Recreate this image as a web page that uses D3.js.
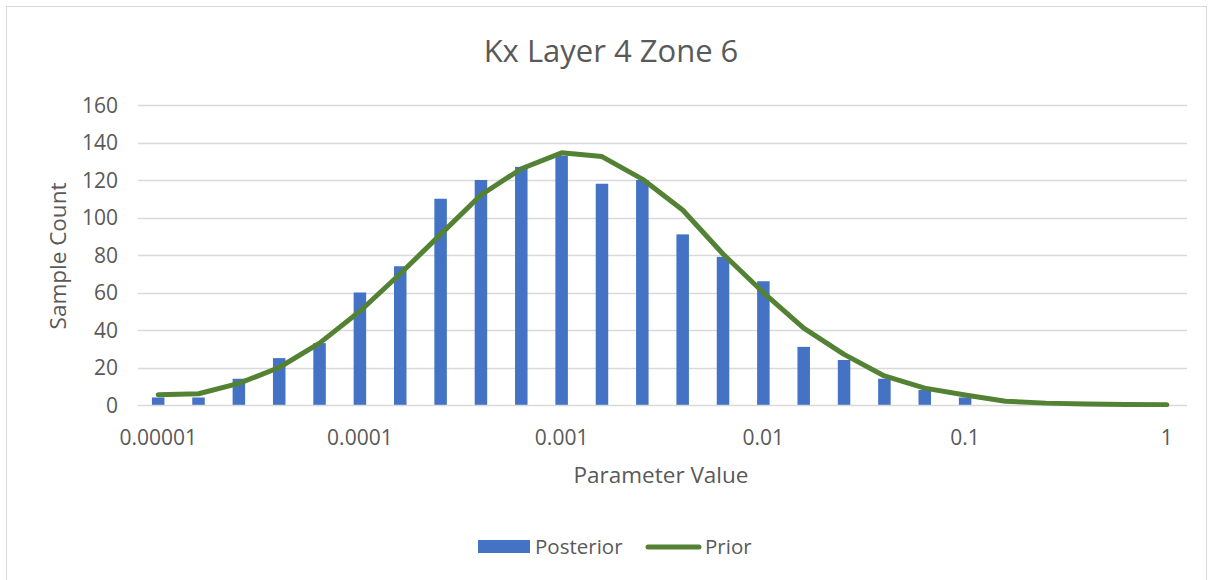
<!DOCTYPE html>
<html>
<head>
<meta charset="utf-8">
<script src="https://cdn.jsdelivr.net/npm/d3@7"></script>
<style>
  html, body { margin: 0; padding: 0; background: #fff; }
  svg { display: block; font-family: "Open Sans", "Segoe UI", sans-serif; }
</style>
</head>
<body>
<svg id="chart" width="1213" height="580"></svg>
<script>
// Categories: 5 bins per decade from 1e-5 to 1
const categories = ["0.00001","1.58E-05","2.51E-05","3.98E-05","6.31E-05",
  "0.0001","1.58E-04","2.51E-04","3.98E-04","6.31E-04",
  "0.001","1.58E-03","2.51E-03","3.98E-03","6.31E-03",
  "0.01","1.58E-02","2.51E-02","3.98E-02","6.31E-02",
  "0.1","1.58E-01","2.51E-01","3.98E-01","6.31E-01","1"];
const xTickLabels = ["0.00001","0.0001","0.001","0.01","0.1","1"];
const posterior = [4, 4, 14, 25, 33, 60, 74, 110, 120, 127, 133, 118, 120, 91, 79, 66, 31, 24, 14, 8, 4, 0, 0, 0, 0, 0];
const prior = [5.5, 6, 11.5, 20, 33, 50, 70, 91, 112, 126, 134.5, 132.5, 120.5, 104, 80.5, 60, 41, 27, 15.5, 9, 5.3, 2, 1, 0.5, 0.3, 0.2];
const yTicks = [0, 20, 40, 60, 80, 100, 120, 140, 160];

const svg = d3.select("#chart");
const m = { left: 138, right: 1187, top: 105, bottom: 405 };

// chart border
svg.append("rect").attr("x", 6.5).attr("y", 6.5).attr("width", 1200).attr("height", 580)
  .attr("fill", "#fff").attr("stroke", "#d9d9d9").attr("stroke-width", 1);

const x = d3.scaleBand().domain(categories).range([m.left, m.right]).paddingInner(0).paddingOuter(0);
const y = d3.scaleLinear().domain([0, 160]).range([m.bottom, m.top]);

// gridlines
svg.append("g").selectAll("line").data(yTicks.filter(d => d > 0)).join("line")
  .attr("x1", m.left).attr("x2", m.right)
  .attr("y1", d => Math.round(y(d)) + 0.5).attr("y2", d => Math.round(y(d)) + 0.5)
  .attr("stroke", "#d9d9d9").attr("stroke-width", 1.5);

// y tick labels
svg.append("g").selectAll("text").data(yTicks).join("text")
  .attr("x", 118).attr("y", d => y(d)).attr("dy", "0.36em")
  .attr("text-anchor", "end").attr("fill", "#595959").attr("font-size", 21)
  .text(d => d);

// bars
const barW = 12.5;
svg.append("g").selectAll("rect").data(posterior).join("rect")
  .attr("x", (d, i) => x(categories[i]) + x.bandwidth() / 2 - barW / 2)
  .attr("width", barW)
  .attr("y", d => y(d))
  .attr("height", d => y(0) - y(d))
  .attr("fill", "#4472c4");

// x axis line
svg.append("line").attr("x1", m.left).attr("x2", m.right)
  .attr("y1", m.bottom + 0.5).attr("y2", m.bottom + 0.5)
  .attr("stroke", "#d9d9d9").attr("stroke-width", 1.5);

// prior line
const line = d3.line()
  .x((d, i) => x(categories[i]) + x.bandwidth() / 2)
  .y(d => y(d));
svg.append("path").datum(prior).attr("d", line)
  .attr("fill", "none").attr("stroke", "#548235").attr("stroke-width", 5)
  .attr("stroke-linejoin", "round").attr("stroke-linecap", "round");

// x tick labels
svg.append("g").selectAll("text").data(xTickLabels).join("text")
  .attr("x", d => x(d) + x.bandwidth() / 2).attr("y", 437).attr("dy", "0.36em")
  .attr("text-anchor", "middle").attr("fill", "#595959").attr("font-size", 21)
  .text(d => d);

// title
svg.append("text").attr("x", 611).attr("y", 51).attr("dy", "0.36em")
  .attr("text-anchor", "middle").attr("fill", "#595959").attr("font-size", 31)
  .text("Kx Layer 4 Zone 6");

// axis titles
svg.append("text").attr("x", 661).attr("y", 475).attr("dy", "0.36em")
  .attr("text-anchor", "middle").attr("fill", "#595959").attr("font-size", 22.5)
  .text("Parameter Value");
svg.append("text").attr("transform", "translate(58,256) rotate(-90)").attr("dy", "0.36em")
  .attr("text-anchor", "middle").attr("fill", "#595959").attr("font-size", 22.5)
  .text("Sample Count");

// legend
const lg = svg.append("g");
lg.append("rect").attr("x", 478).attr("y", 540).attr("width", 52).attr("height", 13).attr("fill", "#4472c4");
lg.append("text").attr("x", 535).attr("y", 547).attr("dy", "0.36em").attr("fill", "#595959")
  .attr("font-size", 20.5).text("Posterior");
lg.append("line").attr("x1", 648).attr("x2", 699).attr("y1", 547).attr("y2", 547)
  .attr("stroke", "#548235").attr("stroke-width", 5).attr("stroke-linecap", "round");
lg.append("text").attr("x", 705).attr("y", 547).attr("dy", "0.36em").attr("fill", "#595959")
  .attr("font-size", 20.5).text("Prior");
</script>
</body>
</html>
